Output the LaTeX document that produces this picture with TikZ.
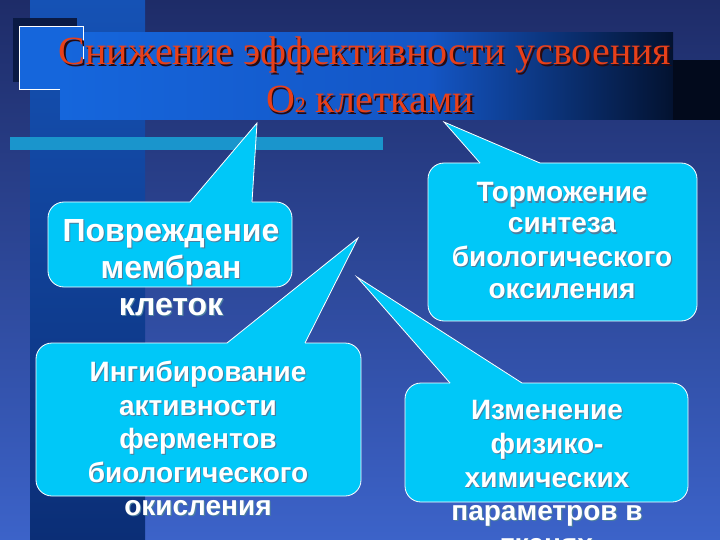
\documentclass[tikz,border=0pt]{standalone}
\usepackage{fontspec}
\setmainfont{Liberation Serif}
\newfontfamily\cfont{Liberation Sans}
\definecolor{bgtop}{HTML}{1E2C68}
\definecolor{bgbot}{HTML}{3C63C9}
\definecolor{striptop}{HTML}{1552B5}
\definecolor{stripbot}{HTML}{0B2E76}
\definecolor{bandL}{HTML}{1566DC}
\definecolor{bandM}{HTML}{1456C6}
\definecolor{bandR}{HTML}{031230}
\definecolor{bandK}{HTML}{020A1C}
\definecolor{darksq}{HTML}{0A1A44}
\definecolor{barc}{HTML}{1A95CC}
\definecolor{cyanfill}{HTML}{00C8F8}
\definecolor{titlered}{HTML}{E8401A}
\definecolor{titlesh}{HTML}{2A0A10}
\definecolor{txtsh}{HTML}{4C7E9E}
\pgfdeclarehorizontalshading{bandshade}{100bp}{color(0bp)=(bandL); color(25bp)=(bandL); color(55bp)=(bandM); color(75bp)=(bandR); color(100bp)=(bandR)}
\newcommand\shw[1]{\leavevmode\rlap{\kern1.1pt\raisebox{-1.1pt}{\textcolor{txtsh}{#1}}}#1}
\newcommand\shr[1]{\leavevmode\rlap{\kern1.6pt\raisebox{-1.6pt}{\textcolor{titlesh}{#1}}}#1}
% #1 L, #2 T, #3 R, #4 B, #5 left base x, #6 right base x, #7 tip
\newcommand\mkcallout[7]{%
  \fill[cyanfill, rounded corners=16pt] (#1,#2) rectangle (#3,#4);
  \fill[cyanfill] (#5,#2+3) -- (#5,#2) -- (#7) -- (#6,#2) -- (#6,#2+3) -- cycle;
  \draw[cline, rounded corners=16pt] (#5,#2) -- (#1,#2) -- (#1,#4) -- (#3,#4) -- (#3,#2) -- (#6,#2);
  \draw[cline] (#5,#2) -- (#7) -- (#6,#2);}
\tikzset{
  cline/.style={draw=white, line width=0.8pt, line join=miter},
  ctA/.style={text=white, inner sep=0pt, anchor=base, font=\cfont\bfseries\fontsize{32}{38}\selectfont},
  ctB/.style={text=white, inner sep=0pt, anchor=base, font=\cfont\bfseries\fontsize{28}{33}\selectfont},
  ttl/.style={text=titlered, inner sep=0pt, anchor=base, font=\fontsize{40}{48}\selectfont},
}
\begin{document}
\begin{tikzpicture}[x=1pt,y=-1pt]
\clip (0,0) rectangle (720,540);
% background
\shade[top color=bgtop, bottom color=bgbot] (0,0) rectangle (720,540);
\shade[top color=striptop, bottom color=stripbot] (30,0) rectangle (145,540);
\fill[darksq] (13,18) rectangle (77,82);
\fill[bandL] (19,26) rectangle (83,89);
\shade[shading=bandshade] (60,33) rectangle (673,120);
\fill[bandK] (673,60) rectangle (720,120);
\draw[white, line width=0.8pt] (60,89) -- (19,89) -- (19,26) -- (83,26) -- (83,63);
\fill[barc] (10,137) rectangle (383,150);
% title
\node[ttl] (t1) at (365,65) {\shr{Снижение эффективности усвоения}};
\node[ttl] (t2) at (370,113) {\shr{O{\fontsize{22}{22}\selectfont 2} клетками}};
% tips
\coordinate (p1) at (257,123);
\coordinate (p2) at (358,238);
\coordinate (p3) at (444,122);
\coordinate (p4) at (357,277);
% callouts
\mkcallout{48}{202}{292}{287}{190}{252}{p1}
\mkcallout{36}{343}{361}{496}{227}{305}{p2}
\mkcallout{428}{163}{697}{321}{480}{540}{p3}
\mkcallout{405}{383}{688}{502}{450}{522}{p4}
% texts
\node[ctA] (a1) at (171,241) {\shw{Повреждение}};
\node[ctA] (a2) at (171,278) {\shw{мембран}};
\node[ctA] (a3) at (171,315) {\shw{клеток}};
\node[ctB] (b1) at (198,381) {\shw{Ингибирование}};
\node[ctB] (b2) at (198,415) {\shw{активности}};
\node[ctB] (b3) at (198,448) {\shw{ферментов}};
\node[ctB] (b4) at (198,482) {\shw{биологического}};
\node[ctB] (b5) at (198,515) {\shw{окисления}};
\node[ctB] (c1) at (562,202) {\shw{Торможение}};
\node[ctB] (c2) at (562,233) {\shw{синтеза}};
\node[ctB] (c3) at (562,266) {\shw{биологического}};
\node[ctB] (c4) at (562,298) {\shw{оксиления}};
\node[ctB] (d1) at (547,419) {\shw{Изменение}};
\node[ctB] (d2) at (547,453) {\shw{физико-}};
\node[ctB] (d3) at (547,487) {\shw{химических}};
\node[ctB] (d4) at (547,520) {\shw{параметров в}};
\node[ctB] (d5) at (547,553) {\shw{тканях}};
\end{tikzpicture}
\end{document}
